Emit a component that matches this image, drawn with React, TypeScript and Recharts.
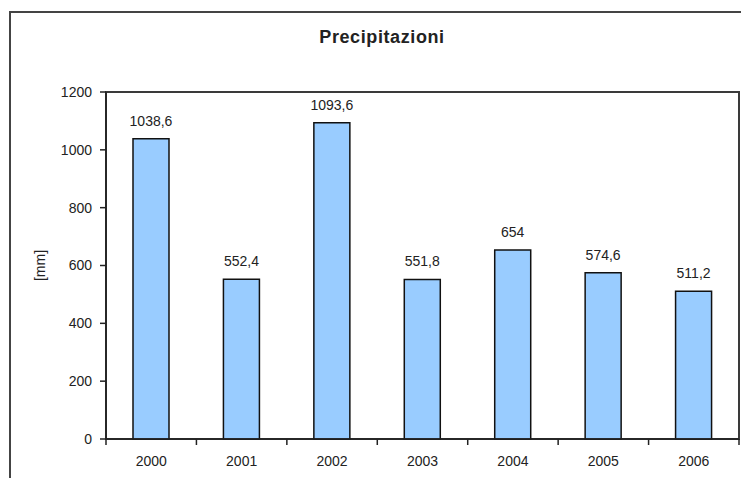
import React from "react";
import {
  BarChart,
  Bar,
  XAxis,
  YAxis,
  LabelList,
} from "recharts";

const years = ["2000", "2001", "2002", "2003", "2004", "2005", "2006"];
const rainfall = [1038.6, 552.4, 1093.6, 551.8, 654, 574.6, 511.2];
const yTicks = [0, 200, 400, 600, 800, 1000, 1200];

const data = years.map((year, i) => ({ year, value: rainfall[i] }));

const W = 749;
const H = 486;
const MARGIN = { top: 92, right: 10, left: 10, bottom: 17 };
const Y_AXIS_W = 96;
const X_AXIS_H = 30;
const FONT = "'Liberation Sans', Arial, sans-serif";
const INK = "#222";
const FRAME = "#3a3a3a";

const plotLeft = MARGIN.left + Y_AXIS_W;
const plotWidth = W - plotLeft - MARGIN.right;
const plotHeight = H - MARGIN.top - MARGIN.bottom - X_AXIS_H;

// ticks on the category axis sit between the columns, not under them
const step = plotWidth / years.length;

const YearTick = (props: any) => {
  const { x, y, index } = props;
  const axisY = y - 16;
  const left = x - step / 2;
  return (
    <g>
      <line x1={left} x2={left} y1={axisY} y2={axisY + 6} stroke={INK} strokeWidth={1.5} />
      {index === years.length - 1 && (
        <line x1={x + step / 2} x2={x + step / 2} y1={axisY} y2={axisY + 6} stroke={INK} strokeWidth={1.5} />
      )}
      <text x={x} y={y + 1} dy="0.71em" textAnchor="middle" fill={INK} fontSize={14} fontFamily={FONT}>
        {props.payload.value}
      </text>
    </g>
  );
};

const commaDecimal = (v: any) => String(v).replace(".", ",");

export default function App() {
  return (
    <div style={{ margin: -8, width: W, height: H, position: "relative", overflow: "hidden", background: "#fff" }}>
      {/* outer chart border */}
      <div
        style={{
          position: "absolute",
          left: 9,
          top: 11,
          width: 900,
          height: 700,
          border: "2px solid #444",
        }}
      />
      {/* plot area frame */}
      <div
        style={{
          position: "absolute",
          left: plotLeft - 1,
          top: MARGIN.top - 1,
          width: plotWidth + 2,
          height: plotHeight + 2,
          border: `2px solid ${FRAME}`,
          boxSizing: "border-box",
        }}
      />
      <div
        style={{
          position: "absolute",
          left: 282,
          top: 27,
          width: 200,
          textAlign: "center",
          fontFamily: FONT,
          fontWeight: "bold",
          fontSize: 18,
          letterSpacing: 0.6,
          lineHeight: "20px",
          color: INK,
        }}
      >
        Precipitazioni
      </div>
      <div style={{ position: "absolute", left: 0, top: 0 }}>
        <BarChart width={W} height={H} data={data} margin={MARGIN} barSize={36}>
          <XAxis
            dataKey="year"
            height={X_AXIS_H}
            tickSize={6}
            tickMargin={10}
            tickLine={false}
            axisLine={{ stroke: INK, strokeWidth: 1.5 }}
            tick={<YearTick />}
            interval={0}
          />
          <YAxis
            domain={[0, 1200]}
            ticks={yTicks}
            width={Y_AXIS_W}
            tickSize={6}
            tickMargin={8}
            tick={{ fill: INK, fontSize: 14, fontFamily: FONT }}
            tickLine={{ stroke: INK, strokeWidth: 1.5 }}
            axisLine={{ stroke: INK, strokeWidth: 1.5 }}
            label={{
              value: "[mm]",
              angle: -90,
              position: "insideLeft",
              offset: 30,
              style: { textAnchor: "middle", fill: INK, fontSize: 14, fontFamily: FONT },
            }}
          />
          <Bar dataKey="value" fill="#99CCFF" stroke="#111" strokeWidth={1.5} isAnimationActive={false}>
            <LabelList
              dataKey="value"
              position="top"
              offset={13}
              formatter={commaDecimal}
              fill={INK}
              fontSize={14}
              fontFamily={FONT}
            />
          </Bar>
        </BarChart>
      </div>
    </div>
  );
}
